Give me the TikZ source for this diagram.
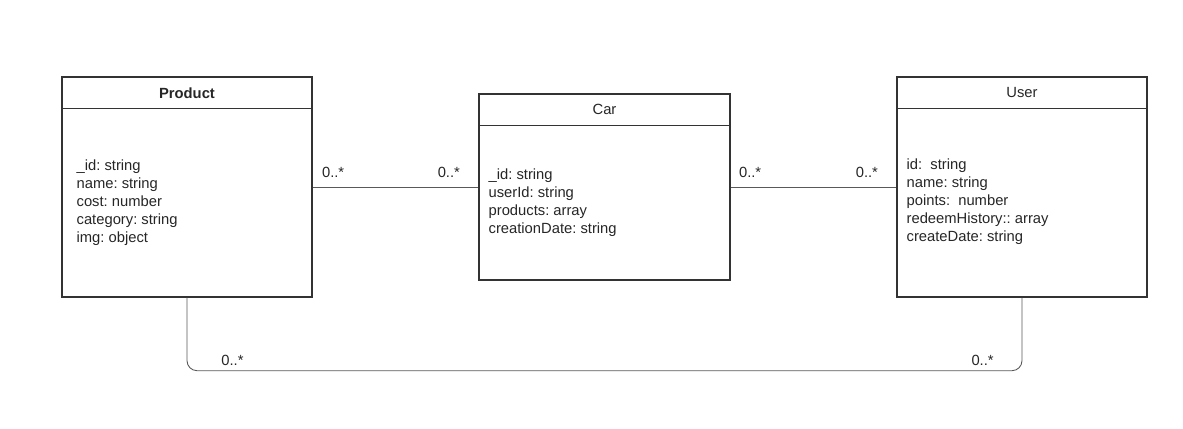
\documentclass[tikz,border=0pt]{standalone}
\usepackage{fontspec}
\setmainfont{Liberation Sans}
\usepackage{tikz}
\frenchspacing

\begin{document}
\begin{tikzpicture}[
    font=\fontsize{8.4pt}{10.24pt}\selectfont,
    classbox/.style={line width=0.8pt, draw=black!80, rectangle, minimum width=5cm},
    classhead/.style={line width=0.8pt, draw=black!80, rectangle, minimum width=5cm, minimum height=0.63cm, anchor=north, text=black!85},
    attrs/.style={anchor=west, align=left, inner sep=0pt, text=black!85},
    mult/.style={inner sep=0pt, text=black!85},
    link/.style={line width=0.5pt, draw=black!65}
]
    \useasboundingbox (0, 0) rectangle (23.66, -8.58);

    % classes
    \node[classbox, minimum height=4.4cm] at (3.74, -3.74) (product) {};
    \node[classhead] at (product.north) (productHead) {\textbf{Product}};
    \node[attrs] at ([xshift=0.3cm, yshift=-0.31cm]product.west) (productAttrs) {\_id: string\\name: string\\cost: number\\category: string\\img: object};

    \node[classbox, minimum width=5.02cm, minimum height=3.72cm] at (12.09, -3.74) (car) {};
    \node[classhead, minimum width=5.02cm] at (car.north) (carHead) {Car};
    \node[attrs] at ([xshift=0.2cm, yshift=-0.32cm]car.west) (carAttrs) {\_id: string\\userId: string\\products: array\\creationDate: string};

    \node[classbox, minimum height=4.4cm] at (20.44, -3.74) (user) {};
    \node[classhead] at (user.north) (userHead) {User};
    \node[attrs] at ([xshift=0.2cm, yshift=-0.3cm]user.west) (userAttrs) {id:~ string\\name: string\\points:~ number\\redeemHistory:: array\\createDate: string};

    % associations
    \draw[link] (product) edge (car);
    \draw[link] (car) edge (user);
    \draw[link, rounded corners=0.2cm] (product.south) -- ++(0, -1.46) -| (user.south);

    %\node[mult] at (0, 0) (test) {};
    \node[mult, anchor=base west] at ([xshift=0.18cm, yshift=0.18cm]product.east) (pcM1) {0..*};
    \node[mult, anchor=base east] at ([xshift=-0.36cm, yshift=0.18cm]car.west) (pcM2) {0..*};
    \node[mult, anchor=base west] at ([xshift=0.16cm, yshift=0.18cm]car.east) (cuM1) {0..*};
    \node[mult, anchor=base east] at ([xshift=-0.36cm, yshift=0.18cm]user.west) (cuM2) {0..*};
    \node[mult, anchor=base west] at ([xshift=0.68cm, yshift=-1.36cm]product.south) (puM1) {0..*};
    \node[mult, anchor=base east] at ([xshift=-0.56cm, yshift=-1.36cm]user.south) (puM2) {0..*};
\end{tikzpicture}
\end{document}
